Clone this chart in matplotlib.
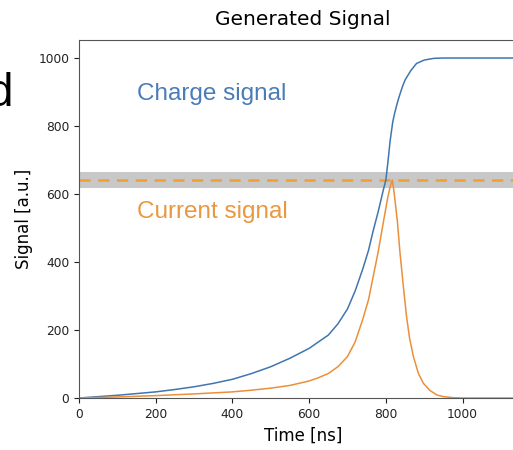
import matplotlib.pyplot as plt
import numpy as np

# Values
time_charge = [0, 50, 100, 150, 200, 250, 300, 350, 400, 450, 500, 550,
               600, 650, 675, 700, 720, 740, 755, 767, 780, 793, 800, 806,
               811, 818, 823, 828, 833, 838, 844, 850, 865, 880, 900, 925,
               950, 1000, 1200]
charge = [0, 4, 8, 13, 18, 25, 33, 43, 55, 72, 92, 117,
          146, 185, 218, 262, 315, 380, 435, 492, 548, 610, 641, 700,
          755, 812, 838, 860, 880, 898, 918, 935, 963, 984, 994, 999,
          1000, 1000, 1000]

time_current = [0, 100, 200, 300, 400, 450, 500, 550, 600, 625, 650, 675,
                700, 720, 740, 755, 767, 780, 793, 805, 812, 817, 822, 830,
                837, 845, 854, 862, 872, 885, 898, 915, 933, 950, 975, 1000,
                1200]
current = [0, 3, 7, 12, 18, 23, 29, 37, 50, 60, 72, 92,
           122, 165, 232, 290, 357, 430, 514, 590, 625, 641, 600, 520,
           426, 335, 239, 175, 121, 72, 43, 22, 9, 4, 1, 0,
           0]

threshold = 641
band_low, band_high = 617, 666

blue = '#3f76b0'
orange = '#ec8f3a'

fig = plt.figure(figsize=(5.13, 4.5), dpi=100)
ax = fig.add_axes([79 / 513, 1 - 398 / 450, 448 / 513, 358 / 450])

ax.axhspan(band_low, band_high, color='#c8c8c8', lw=0)
ax.axhline(threshold, color='#f0a033', lw=1.8, ls=(0, (4.5, 3)))
ax.plot(time_charge, charge, color=blue, lw=1.1)
ax.plot(time_current, current, color=orange, lw=1.1)

ax.text(151, 876, 'Charge signal', color='#4a7cb8', fontsize=17.5,
        family='Liberation Sans', va='baseline')
ax.text(151, 528, 'Current signal', color='#e9983f', fontsize=17.5,
        family='Liberation Sans', va='baseline')

ax.set_xlim(0, 1168)
ax.set_ylim(0, 1053)
ax.set_xticks([0, 200, 400, 600, 800, 1000])
ax.set_yticks([0, 200, 400, 600, 800, 1000])
ax.tick_params(labelsize=8.8, colors='#222222')
ax.set_xlabel('Time [ns]', fontsize=12)
ax.set_ylabel('Signal [a.u.]', fontsize=12)
ax.set_title('Generated Signal', fontsize=14.5, pad=10.5)
for s in ax.spines.values():
    s.set_color('#555555')

# slide text cut off at the left edge
fig.text(13 / 513, 1 - 106 / 450, 'd', fontsize=33, family='Liberation Sans',
         ha='right', va='baseline')

fig.savefig('out.png', dpi=100)
